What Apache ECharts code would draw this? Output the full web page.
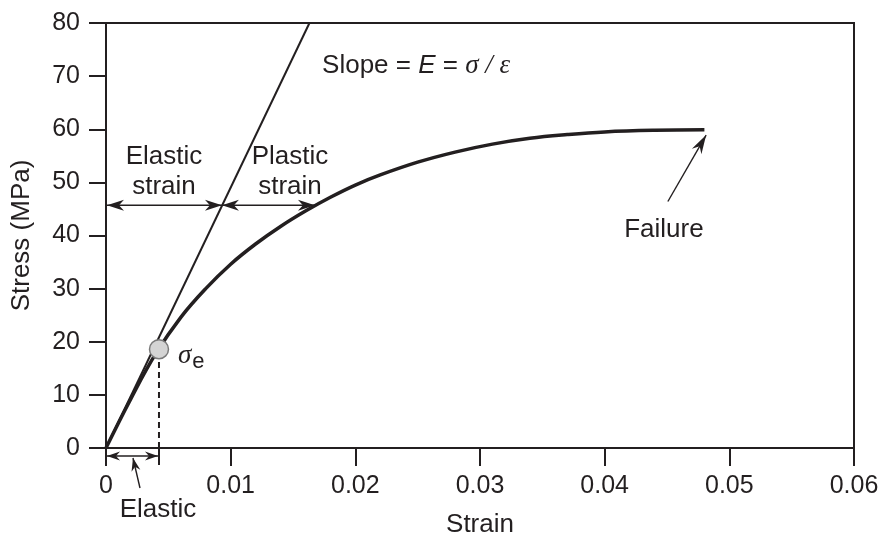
<!DOCTYPE html>
<html><head><meta charset="utf-8">
<script src="https://cdn.jsdelivr.net/npm/echarts@6/dist/echarts.min.js"></script>
<style>html,body{margin:0;padding:0;background:#fff}#c{width:884px;height:536px}</style>
</head><body><div id="c"></div>
<script>
// ---- data ----
const strainValues = [0, 0.002, 0.004, 0.006, 0.008, 0.010, 0.012, 0.014, 0.016, 0.018, 0.020, 0.022, 0.025, 0.028, 0.031, 0.034, 0.037, 0.040, 0.044, 0.048];
const stressValues = [0, 9.3, 17.8, 24.6, 30.0, 34.6, 38.4, 41.7, 44.6, 47.2, 49.5, 51.4, 53.8, 55.7, 57.2, 58.3, 59.0, 59.5, 59.8, 59.9];
const elasticLineStrain = [0, 0.01632];
const elasticLineStress = [0, 80];
const yieldPoint = [0.00425, 18.6];
const strainArrowStress = 45.7;
const elasticStrainEnd = 0.0093;
const plasticStrainEnd = 0.01676;
const failureArrowTail = [0.04507, 46.4];
const failureArrowHead = [0.04814, 58.9];
const xTickValues = [0, 0.01, 0.02, 0.03, 0.04, 0.05, 0.06];
const yTickValues = [0, 10, 20, 30, 40, 50, 60, 70, 80];

const INK = '#231f20';
const FONT = '"Liberation Sans", Arial, sans-serif';
const SERIF = '"Liberation Serif", "DejaVu Serif", serif';

const chart = echarts.init(document.getElementById('c'));
const curve = strainValues.map((s, i) => [s, stressValues[i]]);
const eline = elasticLineStrain.map((s, i) => [s, elasticLineStress[i]]);

chart.setOption({
  animation: false,
  backgroundColor: '#fff',
  grid: { left: 106, right: 30, top: 23, bottom: 88, containLabel: false, outerBoundsMode: 'none', show: true, borderColor: INK, borderWidth: 2 },
  xAxis: {
    type: 'value', min: xTickValues[0], max: xTickValues[xTickValues.length - 1], interval: 0.01,
    axisLine: { show: true, lineStyle: { color: INK, width: 2 } },
    axisTick: { show: true, inside: false, length: 18, lineStyle: { color: INK, width: 2 } },
    axisLabel: { margin: 26, fontSize: 25, fontFamily: FONT, color: INK },
    splitLine: { show: false },
    name: 'Strain', nameLocation: 'middle', nameGap: 64,
    nameTextStyle: { fontSize: 26, fontFamily: FONT, color: INK }
  },
  yAxis: {
    type: 'value', min: yTickValues[0], max: yTickValues[yTickValues.length - 1], interval: 10,
    axisLine: { show: true, lineStyle: { color: INK, width: 2 } },
    axisTick: { show: true, inside: false, length: 17, lineStyle: { color: INK, width: 2 } },
    axisLabel: { margin: 26, fontSize: 25, fontFamily: FONT, color: INK },
    splitLine: { show: false },
    name: 'Stress (MPa)', nameLocation: 'middle', nameGap: 71,
    nameTextStyle: { fontSize: 26, fontFamily: FONT, color: INK }
  },
  series: [
    { type: 'line', data: eline, showSymbol: false, lineStyle: { color: INK, width: 2 }, z: 2 },
    { type: 'line', data: curve, smooth: 0.4, showSymbol: false, lineStyle: { color: INK, width: 3.5 }, z: 3 },
    { type: 'line', data: [[yieldPoint[0], 0], yieldPoint], showSymbol: false, lineStyle: { color: INK, width: 2, type: [6, 4] }, z: 2 },
    { type: 'scatter', data: [yieldPoint], symbolSize: 19, itemStyle: { color: '#d4d4d4', borderColor: '#7a7a7a', borderWidth: 1.5, opacity: 1 }, z: 5 }
  ]
});

function px(p) { return chart.convertToPixel({ gridIndex: 0 }, p); }
function head(tip, from, L, W, N) {
  const dx = tip[0] - from[0], dy = tip[1] - from[1];
  const len = Math.hypot(dx, dy); const ux = dx / len, uy = dy / len;
  const nx = -uy, ny = ux;
  const bx = tip[0] - ux * L, by = tip[1] - uy * L;
  return { type: 'polygon', z: 10, shape: { points: [tip, [bx + nx * W, by + ny * W], [tip[0] - ux * (L - N), tip[1] - uy * (L - N)], [bx - nx * W, by - ny * W]] }, style: { fill: INK } };
}
function arrow(a, b, both, w, L, W, N) {
  L = L || 17; W = W || 5.5; N = N || 5;
  const els = [{ type: 'line', z: 10, shape: { x1: a[0], y1: a[1], x2: b[0], y2: b[1] }, style: { stroke: INK, lineWidth: w || 1.6 } }];
  els.push(head(b, a, L, W, N));
  if (both) els.push(head(a, b, L, W, N));
  return els;
}
function txt(p, text, extra) {
  return { type: 'text', z: 10, x: p[0], y: p[1], style: Object.assign({ text: text, font: '26px ' + FONT, fill: INK, align: 'center', verticalAlign: 'middle', lineHeight: 30 }, extra || {}) };
}

const origin = px([0, 0]);
const yBase = px([yieldPoint[0], 0]);
const aL = px([0, strainArrowStress]);
const aM = px([elasticStrainEnd, strainArrowStress]);
const aR = px([plasticStrainEnd, strainArrowStress]);
const belowY = origin[1] + 8;
const g = [];
g.push(...arrow([aL[0] + 1, aL[1]], aM, true));
g.push(...arrow(aM, aR, true));
g.push(...arrow([origin[0] + 1, belowY], [yBase[0] - 1, belowY], true, 1.5, 13, 4.5, 4));
g.push({ type: 'line', z: 10, shape: { x1: yBase[0], y1: origin[1], x2: yBase[0], y2: origin[1] + 17 }, style: { stroke: INK, lineWidth: 2 } });
g.push(...arrow([yBase[0] - 19, origin[1] + 40], [yBase[0] - 26, belowY + 2], false, 1.4, 13, 4.5, 4));
g.push(...arrow(px(failureArrowTail), px(failureArrowHead), false, 1.4, 19, 5.5, 6));
g.push(txt(px([0.00465, 51.9]), 'Elastic\nstrain'));
g.push(txt(px([0.01476, 51.9]), 'Plastic\nstrain'));
g.push(txt([yBase[0] - 1, origin[1] + 62], 'Elastic'));
g.push(txt(px([0.04475, 41.0]), 'Failure'));
const slopeP = px([0.01733, 72.0]);
g.push({ type: 'text', z: 10, x: slopeP[0], y: slopeP[1], style: {
  text: '{a|Slope = }{b|E}{a| = }{c|σ / ε}', align: 'left', verticalAlign: 'middle', fill: INK,
  rich: { a: { font: '26px ' + FONT, fill: INK }, b: { font: 'italic 26px ' + FONT, fill: INK }, c: { font: 'italic 27px ' + SERIF, fill: INK } } } });
const sigP = px([0.00577, 17.4]);
g.push({ type: 'text', z: 10, x: sigP[0], y: sigP[1], style: {
  text: '{s|σ}{e|e}', align: 'left', verticalAlign: 'middle', fill: INK,
  rich: { s: { font: 'italic 27px ' + SERIF, fill: INK }, e: { font: '22px ' + FONT, fill: INK, padding: [12, 0, 0, 1] } } } });
chart.setOption({ graphic: g });
</script>
</body></html>
